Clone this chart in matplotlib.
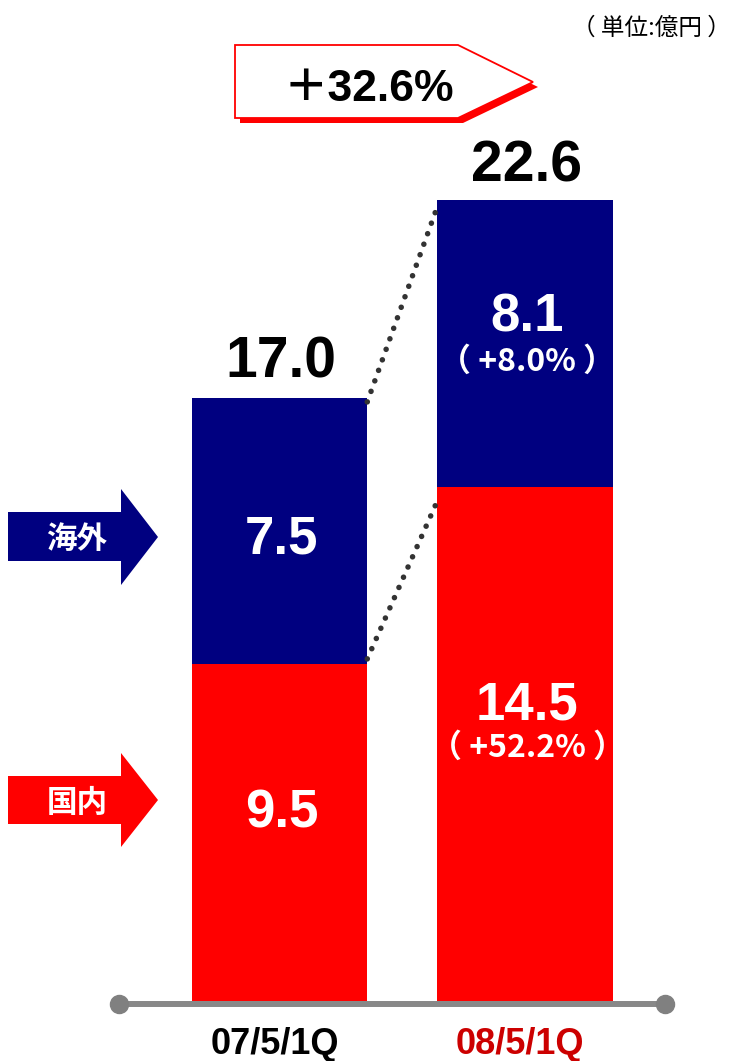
import matplotlib
matplotlib.use("Agg")
import matplotlib.pyplot as plt
from matplotlib.patches import Polygon
from matplotlib.transforms import blended_transform_factory
from matplotlib import font_manager

# ---------------- data ----------------
categories = ["07/5/1Q", "08/5/1Q"]
domestic = [9.5, 14.5]          # 国内
overseas = [7.5, 8.1]           # 海外
totals = [17.0, 22.6]
total_growth = "+32.6%"
domestic_growth = [None, "+52.2%"]
overseas_growth = [None, "+8.0%"]
series_names = ["国内", "海外"]
unit_label = "（ 単位:億円 ）"

# ---------------- style ----------------
RED = "#FF0000"
NAVY = "#000080"
LABEL_RED = "#CC0000"

names = {f.name for f in font_manager.fontManager.ttflist}
NUM = ["Liberation Sans Narrow", "Noto Sans CJK JP"] if "Liberation Sans Narrow" in names \
    else ["Liberation Sans", "Noto Sans CJK JP"]
CJK = ["Noto Sans CJK JP", "DejaVu Sans"]

W, H = 731, 1061
fig = plt.figure(figsize=(W / 100, H / 100), dpi=100)

ax = fig.add_axes([0, 0, 1, 1])
ax.set_axis_off()
x = [0, 1]
bw = 0.715
ax.bar(x, domestic, width=bw, color=RED, zorder=2)
ax.bar(x, overseas, bottom=domestic, width=bw, color=NAVY, zorder=2)
ax.set_xlim(-1.1385, 1.8391)
ax.set_ylim(-1.6925, 28.237)

# pixel overlay for decorations
ov = fig.add_axes([0, 0, 1, 1], facecolor="none")
ov.set_axis_off()
ov.set_xlim(0, W)
ov.set_ylim(H, 0)
bt = blended_transform_factory(ax.transData, ov.transData)

# dotted connectors (data coords)
dot_kw = dict(color="#333333", lw=4.0, linestyle=(0, (0.01, 2.0)),
              dash_capstyle="round", zorder=3)
ax.plot([x[0] + bw / 2, x[1] - bw / 2], [totals[0] - 0.1, totals[1] - 0.2], **dot_kw)
ax.plot([x[0] + bw / 2, x[1] - bw / 2], [domestic[0] + 0.15, domestic[1] - 0.4], **dot_kw)

# baseline axis with round ends
ov.plot([119, 665], [1004, 1004], color="#888888", lw=4.3, solid_capstyle="butt", zorder=4)
ov.plot([119, 665], [1004, 1004], "o", color="#808080", ms=13, zorder=5)

# totals
for i in range(2):
    ov.text(x[i] + 0.005, 377 if i == 0 else 181, f"{totals[i]:.1f}", transform=bt,
            ha="center", va="baseline", fontsize=41, fontweight="bold",
            family=NUM, color="black")

# inner labels
inner_y_main_ov = [553, 332]
inner_y_main_dom = [827, 720]
for i in range(2):
    ov.text(x[i] + 0.01, inner_y_main_ov[i], f"{overseas[i]:.1f}", transform=bt,
            ha="center", va="baseline", fontsize=38, fontweight="bold",
            family=NUM, color="white")
    ov.text(x[i] + 0.01, inner_y_main_dom[i], f"{domestic[i]:.1f}", transform=bt,
            ha="center", va="baseline", fontsize=38, fontweight="bold",
            family=NUM, color="white")
    if overseas_growth[i]:
        ov.text(x[i] + 0.01, 362, f"（ {overseas_growth[i]} ）", transform=bt,
                ha="center", va="center", fontsize=23, fontweight="bold",
                family=CJK, color="white")
    if domestic_growth[i]:
        ov.text(x[i] + 0.01, 748, f"（ {domestic_growth[i]} ）", transform=bt,
                ha="center", va="center", fontsize=23, fontweight="bold",
                family=CJK, color="white")

# category labels
cat_colors = ["black", LABEL_RED]
for i in range(2):
    ov.text(x[i] - 0.02, 1054, categories[i], transform=bt, ha="center",
            va="baseline", fontsize=26, fontweight="bold", family=NUM,
            color=cat_colors[i])

# growth callout box
box = [(235, 45), (458, 45), (533, 82), (458, 118), (235, 118)]
shadow = [(px + 5, py + 5) for px, py in box]
ov.add_patch(Polygon(shadow, closed=True, facecolor=RED, edgecolor=RED, lw=0, zorder=5))
ov.add_patch(Polygon(box, closed=True, facecolor="white", edgecolor=RED, lw=1.3, zorder=6))
ov.text(369, 101, total_growth.replace("+", "＋"), ha="center", va="baseline",
        fontsize=32, fontweight="bold", family=NUM, color="black", zorder=7)

# unit label
ov.text(651, 28, unit_label, ha="center", va="center", fontsize=17,
        family=CJK, fontweight="normal", color="black")

# series arrows
def arrow(ytop, ybot, yhtop, yhbot, color):
    ymid = (yhtop + yhbot) / 2
    pts = [(8, ytop), (121, ytop), (121, yhtop), (158, ymid),
           (121, yhbot), (121, ybot), (8, ybot)]
    ov.add_patch(Polygon(pts, closed=True, facecolor=color, edgecolor="none", zorder=5))
    return ymid

ym = arrow(512, 561, 489, 585, NAVY)
ov.text(77, ym + 2, series_names[1], ha="center", va="center", fontsize=22,
        fontweight="bold", family=CJK, color="white", zorder=6)
ym = arrow(776, 824, 753, 847, RED)
ov.text(77, ym + 3, series_names[0], ha="center", va="center", fontsize=22,
        fontweight="bold", family=CJK, color="white", zorder=6)

fig.savefig("out.png", dpi=100)
